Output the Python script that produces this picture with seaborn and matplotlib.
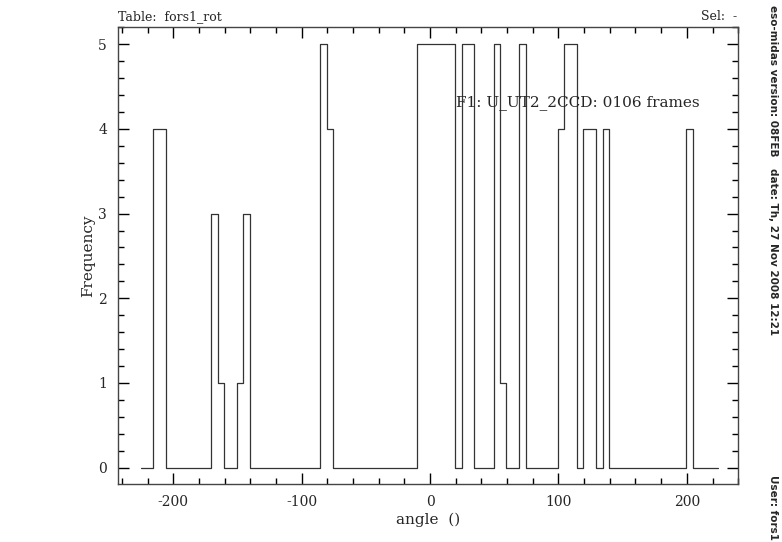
import numpy as np
import pandas as pd
import matplotlib
matplotlib.use('Agg')
import matplotlib.pyplot as plt
import seaborn as sns
from matplotlib.ticker import MultipleLocator

# histogram data: 90 bins of 5 degrees from -225.5
bin_start = -225.5
bin_width = 5.0
counts = [0, 0, 4, 4, 0, 0, 0, 0, 0, 0, 0, 3, 1, 0, 0, 1, 3,
          0, 0, 0, 0, 0, 0, 0, 0, 0, 0, 0, 5, 4,
          0, 0, 0, 0, 0, 0, 0, 0, 0, 0, 0, 0, 0,
          5, 5, 5, 5, 5, 5, 0, 5, 5, 0, 0, 0, 5, 1, 0, 0, 5,
          0, 0, 0, 0, 0, 4, 5, 5, 0, 4, 4, 0, 4,
          0, 0, 0, 0, 0, 0, 0, 0, 0, 0, 0, 0, 4, 0, 0, 0, 0]

edges = [bin_start + bin_width * i for i in range(len(counts) + 1)]
centers = [e + bin_width / 2 for e in edges[:-1]]
df = pd.DataFrame({'angle': centers, 'freq': counts})

sns.set_style('ticks')
plt.rcParams['font.family'] = ['DejaVu Serif']
plt.rcParams['axes.unicode_minus'] = False

fig = plt.figure(figsize=(7.82, 5.42), dpi=100)
ax = fig.add_axes([0.151, 0.1065, 0.793, 0.8431])

sns.histplot(data=df, x='angle', weights='freq', bins=edges, element='step',
             fill=False, color='#333333', linewidth=0.9, ax=ax)

ax.set_xlim(-243, 240)
ax.set_ylim(-0.196, 5.2)
ax.xaxis.set_major_locator(MultipleLocator(100))
ax.xaxis.set_minor_locator(MultipleLocator(20))
ax.yaxis.set_major_locator(MultipleLocator(1))
ax.yaxis.set_minor_locator(MultipleLocator(0.2))
ax.tick_params(which='both', direction='in', top=True, right=True, labelsize=10, width=1.0, color='black')
ax.tick_params(which='major', length=8, pad=8)
ax.tick_params(which='minor', length=4)
for s in ax.spines.values():
    s.set_linewidth(1.0)
    s.set_color('#444444')

ax.set_xlabel('angle  ()', fontsize=11)
ax.set_ylabel('Frequency', fontsize=11)
ax.xaxis.set_label_coords(0.5, -0.063)
ax.yaxis.set_label_coords(-0.037, 0.5)

ax.text(20, 4.31, 'F1: U_UT2_2CCD: 0106 frames', fontsize=11, va='center', ha='left')
fig.text(0.151, 0.958, 'Table:  fors1_rot', fontsize=9, ha='left', va='bottom')
fig.text(0.943, 0.958, 'Sel:  -', fontsize=9, ha='right', va='bottom')

side = dict(fontsize=7.5, rotation=-90, ha='center', family=['DejaVu Sans'], fontweight='bold')
fig.text(0.988, 0.99, 'eso-midas version: 08FEB', va='top', **side)
fig.text(0.988, 0.69, 'date: Th, 27 Nov 2008 12:21', va='top', **side)
fig.text(0.988, 0.004, 'User: fors1', va='bottom', **side)

fig.savefig('out.png', dpi=100)
